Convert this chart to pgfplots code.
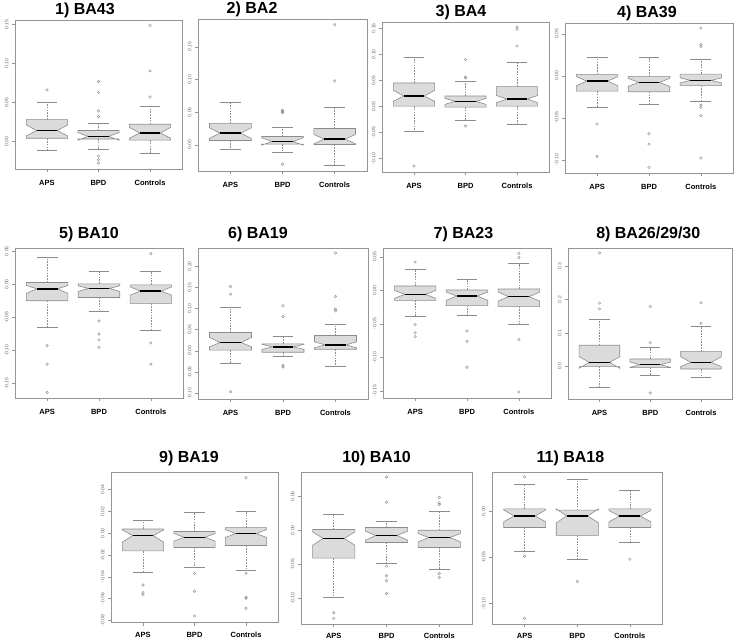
\documentclass[border=0pt]{standalone}
\usepackage{pgfplots}
\pgfplotsset{compat=1.18}
\usepackage{fontspec}
\setmainfont{Liberation Sans}
\definecolor{framegray}{HTML}{959595}
\definecolor{boxedge}{HTML}{8C8C8C}
\definecolor{boxfill}{HTML}{DBDBDB}
\definecolor{labgray}{HTML}{6A6A6A}
\pgfplotsset{
  whisk/.style={draw=boxedge, line width=0.5pt, dash pattern=on 1.6pt off 1.2pt},
  stap/.style={draw=boxedge, line width=0.6pt},
  bx/.style={draw=boxedge, fill=boxfill, line width=0.6pt},
  medl/.style={draw=black, line width=1.5pt},
  outl/.style={only marks, mark=o, mark size=1.3pt, mark options={draw=boxedge, line width=0.4pt}},
  rpanel/.style={
    scale only axis, anchor=north west,
    xmin=0.38, xmax=3.62, xtick={1,2,3}, xticklabels={APS,BPD,Controls},
    tick align=outside, major tick length=3pt,
    xtick pos=bottom, ytick pos=left,
    axis line style={draw=framegray, line width=0.6pt},
    tick style={draw=framegray, line width=0.5pt},
    scaled y ticks=false,
    /pgf/number format/assume math mode=true,
    yticklabel style={rotate=90, anchor=south, font=\fontsize{5}{6}\selectfont, text=labgray,
      /pgf/number format/fixed, /pgf/number format/fixed zerofill, /pgf/number format/precision=2},
    xticklabel style={font=\fontsize{7.5}{9}\selectfont\bfseries, text=black, anchor=base, inner sep=0pt, yshift=-13.5pt},
    title style={font=\fontsize{16}{19}\selectfont\bfseries, anchor=base, inner sep=0pt},
  },
  lowrow/.style={xticklabel style={yshift=#1}},
}
\newcommand{\nbox}[8]{%
  \pgfmathsetmacro\bxL{#1-0.4}%
  \pgfmathsetmacro\bxl{#1-0.2}%
  \pgfmathsetmacro\bxr{#1+0.2}%
  \pgfmathsetmacro\bxR{#1+0.4}%
  \addplot[whisk] coordinates {(#1,#7) (#1,#8)};
  \addplot[whisk] coordinates {(#1,#3) (#1,#2)};
  \addplot[stap] coordinates {(\bxl,#8) (\bxr,#8)};
  \addplot[stap] coordinates {(\bxl,#2) (\bxr,#2)};
  \addplot[bx] coordinates {(\bxL,#3) (\bxL,#4) (\bxl,#5) (\bxL,#6) (\bxL,#7) (\bxR,#7) (\bxR,#6) (\bxr,#5) (\bxR,#4) (\bxR,#3)} -- cycle;
  \addplot[medl] coordinates {(\bxl,#5) (\bxr,#5)};
}
\begin{document}
\begin{tikzpicture}
\useasboundingbox (0,0) rectangle (739pt,-640pt);
% ---------- Row 1
\begin{axis}[rpanel, at={(15pt,-20pt)}, width=167pt, height=149pt,
  ymin=-0.0355, ymax=0.156, ytick={0,0.05,0.10,0.15},
  title={1) BA43}, title style={at={(0.419,1)}}]
\nbox{1}{-0.0115}{0.004}{0.007}{0.014}{0.021}{0.028}{0.050}
\nbox{2}{-0.0107}{0.003}{0.0014}{0.0064}{0.0114}{0.014}{0.0226}
\nbox{3}{-0.015}{0.0017}{0.004}{0.0107}{0.018}{0.022}{0.045}
\addplot[outl] coordinates {(1,0.066) (2,0.077) (2,0.063) (2,0.039) (2,0.032) (2,-0.019) (2,-0.0235) (2,-0.028) (3,0.057) (3,0.0906) (3,0.149)};
\end{axis}
\begin{axis}[rpanel, at={(198pt,-19pt)}, width=169pt, height=152pt,
  ymin=-0.040, ymax=0.1925, ytick={0,0.05,0.10,0.15},
  title={2) BA2}, title style={at={(0.32,1)}}]
\nbox{1}{-0.0072}{0.0067}{0.010}{0.0179}{0.026}{0.0328}{0.065}
\nbox{2}{-0.0118}{0.001}{-0.0005}{0.0051}{0.0107}{0.0128}{0.0266}
\nbox{3}{-0.0307}{0.0005}{0.0015}{0.0087}{0.016}{0.025}{0.0568}
\addplot[outl] coordinates {(2,0.053) (2,0.051) (2,0.049) (2,-0.0297) (3,0.0978) (3,0.1838)};
\end{axis}
\begin{axis}[rpanel, at={(382pt,-22pt)}, width=167pt, height=150pt,
  ymin=-0.126, ymax=0.162, ytick={-0.10,-0.05,0,0.05,0.10,0.15},
  title={3) BA4}, title style={at={(0.473,1)}}]
\nbox{1}{-0.0487}{0.0006}{0.0096}{0.0199}{0.031}{0.0449}{0.0949}
\nbox{2}{-0.0269}{-0.0013}{0.0038}{0.0096}{0.0154}{0.0199}{0.048}
\nbox{3}{-0.0346}{0.0006}{0.007}{0.0141}{0.021}{0.0378}{0.0846}
\addplot[outl] coordinates {(1,-0.1147) (2,0.0897) (2,0.055) (2,0.056) (2,-0.0378) (3,0.116) (3,0.148) (3,0.1526)};
\end{axis}
\begin{axis}[rpanel, at={(565pt,-23pt)}, width=168pt, height=150pt,
  ymin=-0.1157, ymax=0.0628, ytick={-0.10,-0.05,0,0.05},
  title={4) BA39}, title style={at={(0.488,1)}}]
\nbox{1}{-0.0375}{-0.0182}{-0.012}{-0.0063}{-0.001}{0.0016}{0.0221}
\nbox{2}{-0.0343}{-0.019}{-0.0126}{-0.0079}{-0.003}{-0.0008}{0.0225}
\nbox{3}{-0.0304}{-0.0118}{-0.0085}{-0.0055}{-0.0025}{0.002}{0.0197}
\addplot[outl] coordinates {(1,-0.0572) (1,-0.0959) (2,-0.069) (2,-0.0813) (2,-0.109) (3,0.0568) (3,0.037) (3,0.035) (3,-0.035) (3,-0.0375) (3,-0.0474) (3,-0.098)};
\end{axis}
% ---------- Row 2
\begin{axis}[rpanel, at={(15pt,-248pt)}, width=168pt, height=150pt,
  ymin=-0.1724, ymax=0.0548, ytick={-0.15,-0.10,-0.05,0,0.05},
  title={5) BA10}, title style={at={(0.44,1)}, yshift=4pt}]
\nbox{1}{-0.0653}{-0.0251}{-0.014}{-0.007}{-0.002}{0.0025}{0.0407}
\nbox{2}{-0.0407}{-0.0201}{-0.011}{-0.0065}{-0.0025}{0.0005}{0.0196}
\nbox{3}{-0.0698}{-0.0291}{-0.0166}{-0.0106}{-0.004}{-0.001}{0.0196}
\addplot[outl] coordinates {(1,-0.093) (1,-0.121) (1,-0.1638) (2,-0.0558) (2,-0.0754) (2,-0.0844) (2,-0.0955) (3,0.0462) (3,-0.089) (3,-0.121)};
\end{axis}
\begin{axis}[rpanel, at={(198pt,-248pt)}, width=170pt, height=151pt,
  ymin=-0.1137, ymax=0.243, ytick={-0.10,-0.05,0,0.05,0.10,0.15,0.20},
  title={6) BA19}, title style={at={(0.353,1)}, yshift=4pt}]
\nbox{1}{-0.0292}{0.0016}{0.0095}{0.0197}{0.0316}{0.0434}{0.1018}
\nbox{2}{-0.0118}{-0.0032}{0.0035}{0.0095}{0.0155}{0.0166}{0.0347}
\nbox{3}{-0.0371}{0.0039}{0.0071}{0.0142}{0.0213}{0.0363}{0.0631}
\addplot[outl] coordinates {(1,0.152) (1,0.134) (1,-0.0963) (2,0.1066) (2,0.0813) (2,-0.0347) (2,-0.038) (3,0.2313) (3,0.1286) (3,0.0987) (3,0.0947)};
\end{axis}
\begin{axis}[rpanel, at={(383pt,-248pt)}, width=168pt, height=150pt,
  ymin=-0.1607, ymax=0.0632, ytick={-0.15,-0.10,-0.05,0,0.05},
  title={7) BA23}, title style={at={(0.479,1)}, yshift=4pt}]
\nbox{1}{-0.0383}{-0.0149}{-0.012}{-0.006}{0.0}{0.0065}{0.0318}
\nbox{2}{-0.0378}{-0.0229}{-0.015}{-0.0085}{-0.0025}{0.0005}{0.0169}
\nbox{3}{-0.0512}{-0.0244}{-0.016}{-0.0095}{-0.0025}{0.002}{0.0398}
\addplot[outl] coordinates {(1,0.0423) (1,-0.0512) (1,-0.0632) (1,-0.0692) (2,-0.0607) (2,-0.0761) (2,-0.1149) (3,0.0552) (3,0.0488) (3,-0.0736) (3,-0.1517)};
\end{axis}
\begin{axis}[rpanel, at={(568pt,-248pt)}, width=164.5pt, height=151pt,
  ymin=-0.098, ymax=0.355, ytick={0,0.1,0.2,0.3},
  yticklabel style={/pgf/number format/precision=1},
  title={8) BA26/29/30}, title style={at={(0.488,1)}, yshift=4pt}]
\nbox{1}{-0.0642}{-0.001}{-0.006}{0.012}{0.029}{0.0632}{0.1414}
\nbox{2}{-0.0271}{-0.004}{-0.003}{0.005}{0.013}{0.0221}{0.0562}
\nbox{3}{-0.0331}{-0.008}{-0.001}{0.012}{0.029}{0.0451}{0.1204}
\addplot[outl] coordinates {(1,0.34) (1,0.1896) (1,0.1725) (2,0.0712) (2,0.1795) (2,-0.0802) (3,0.1294) (3,0.1906)};
\end{axis}
% ---------- Row 3
\begin{axis}[rpanel, at={(111pt,-472pt)}, width=167pt, height=150.5pt,
  ymin=-0.0819, ymax=0.0562, ytick={-0.08,-0.06,-0.04,-0.02,0,0.02,0.04},
  xticklabel style={yshift=2pt},
  title={9) BA19}, title style={at={(0.467,1)}, yshift=4pt}]
\nbox{1}{-0.0356}{-0.0162}{-0.0082}{-0.0021}{0.003}{0.0039}{0.0116}
\nbox{2}{-0.0308}{-0.0131}{-0.0073}{-0.0037}{-0.0003}{0.0016}{0.0195}
\nbox{3}{-0.0338}{-0.0112}{-0.0039}{-0.0003}{0.0034}{0.0052}{0.0204}
\addplot[outl] coordinates {(1,-0.0475) (1,-0.0545) (1,-0.0563) (2,-0.0368) (2,-0.0532) (2,-0.0758) (3,0.0509) (3,-0.0368) (3,-0.0588) (3,-0.0597) (3,-0.0688)};
\end{axis}
\begin{axis}[rpanel, at={(301pt,-472pt)}, width=171pt, height=152pt,
  ymin=-0.1378, ymax=0.0855, ytick={-0.10,-0.05,0,0.05},
  xticklabel style={yshift=2.5pt},
  title={10) BA10}, title style={at={(0.442,1)}, yshift=4pt}]
\nbox{1}{-0.0987}{-0.041}{-0.022}{-0.0122}{-0.0024}{0.001}{0.023}
\nbox{2}{-0.0489}{-0.018}{-0.0147}{-0.0078}{-0.0015}{0.004}{0.0137}
\nbox{3}{-0.0572}{-0.0254}{-0.0171}{-0.0108}{-0.0049}{0.0}{0.0284}
\addplot[outl] coordinates {(1,-0.1212) (1,-0.1295) (2,0.0782) (2,0.041) (2,-0.0528) (2,-0.067) (2,-0.0743) (2,-0.0929) (3,0.048) (3,0.040) (3,0.0377) (3,-0.0636) (3,-0.0694)};
\end{axis}
\begin{axis}[rpanel, at={(492pt,-472pt)}, width=170.5pt, height=152pt,
  ymin=-0.1224, ymax=0.0425, ytick={-0.10,-0.05,0},
  xticklabel style={yshift=2.5pt},
  title={11) BA18}, title style={at={(0.46,1)}, yshift=4pt}]
\nbox{1}{-0.0433}{-0.0177}{-0.0116}{-0.0051}{0.0014}{0.0025}{0.0289}
\nbox{2}{-0.0523}{-0.0263}{-0.0127}{-0.0051}{0.0025}{0.0011}{0.0343}
\nbox{3}{-0.0339}{-0.0177}{-0.0116}{-0.0054}{0.0008}{0.0025}{0.0228}
\addplot[outl] coordinates {(1,0.0372) (1,-0.0491) (1,-0.1163) (2,-0.0762) (3,-0.052)};
\end{axis}
\end{tikzpicture}
\end{document}
